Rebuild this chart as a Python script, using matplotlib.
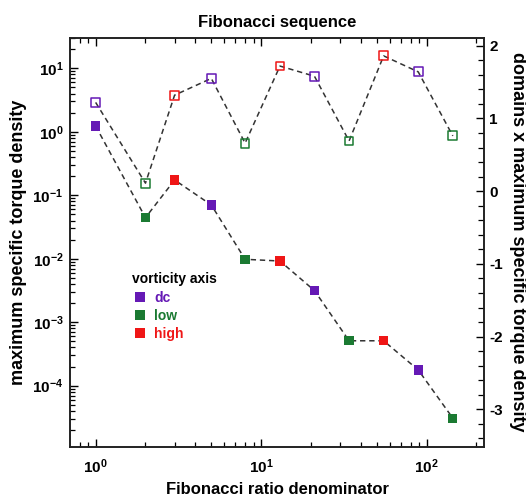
import numpy as np
import matplotlib.pyplot as plt
from matplotlib.lines import Line2D
from matplotlib.ticker import LogLocator, MultipleLocator, NullFormatter

plt.rcParams['font.family'] = ['Liberation Sans', 'DejaVu Sans']
plt.rcParams['font.weight'] = 'bold'
plt.rcParams['axes.labelweight'] = 'bold'
plt.rcParams['axes.titleweight'] = 'bold'
plt.rcParams['axes.unicode_minus'] = False

# Fibonacci denominators and which vorticity axis each case uses
denominator = [1, 2, 3, 5, 8, 13, 21, 34, 55, 89, 144]
vorticity = ['dc', 'low', 'high', 'dc', 'low', 'high', 'dc', 'low', 'high', 'dc', 'low']

# filled squares, left axis
max_torque = [1.23, 0.0444, 0.174, 0.0703, 0.0098, 0.0092, 0.00315,
              5.1e-4, 5.1e-4, 1.77e-4, 3.08e-5]
# open squares, right axis (log10 of domains x max torque)
domains_torque = [1.22, 0.11, 1.32, 1.55, 0.66, 1.72, 1.58, 0.69, 1.86, 1.64, 0.76]

axis_names = ['dc', 'low', 'high']
axis_colors = {'dc': '#6519b5', 'low': '#1b7a32', 'high': '#ef1616'}
cols = [axis_colors[v] for v in vorticity]

fig = plt.figure(figsize=(5.26, 4.96), dpi=100)
ax = fig.add_axes([0.1337, 0.0994, 0.7863, 0.8246])
ax2 = ax.twinx()

dash_kw = dict(color='#333333', lw=1.1, dashes=(3.5, 2.5), zorder=1)

ax.plot(denominator, max_torque, **dash_kw)
ax.scatter(denominator, max_torque, marker='s', s=45, c=cols, linewidths=0, zorder=3)

ax2.plot(denominator, domains_torque, **dash_kw)
ax2.scatter(denominator, domains_torque, marker='s', s=40, facecolors='none',
            edgecolors=cols, linewidths=1.1, zorder=3)

ax.set_xscale('log')
ax.set_yscale('log')
ax.set_xlim(0.703, 222)
ax.set_ylim(10 ** -4.961, 10 ** 1.482)
ax2.set_ylim(-3.514, 2.11)

ax.xaxis.set_major_locator(LogLocator(base=10))
ax.xaxis.set_minor_locator(LogLocator(base=10, subs=np.arange(2, 10)))
ax.xaxis.set_minor_formatter(NullFormatter())
ax.yaxis.set_major_locator(LogLocator(base=10, numticks=20))
ax.yaxis.set_minor_locator(LogLocator(base=10, subs=np.arange(2, 10), numticks=20))
ax.yaxis.set_minor_formatter(NullFormatter())
ax2.yaxis.set_major_locator(MultipleLocator(1))
ax2.yaxis.set_minor_locator(MultipleLocator(0.2))

ax.tick_params(axis='x', which='both', direction='in', top=True, bottom=True,
               labelsize=11, pad=8)
ax.tick_params(axis='y', which='both', direction='in', left=True, right=False,
               labelsize=11, pad=5)
ax.tick_params(which='major', length=6, width=1)
ax.tick_params(which='minor', length=3.5, width=0.9)
ax2.tick_params(axis='y', which='both', direction='in', labelsize=11, pad=4)
ax2.tick_params(which='major', length=6, width=1)
ax2.tick_params(which='minor', length=4, width=0.9)

for a in (ax, ax2):
    for sp in a.spines.values():
        sp.set_linewidth(1.2)
        sp.set_color('#222222')

ax.set_title('Fibonacci sequence', fontsize=12, pad=8)
ax.set_xlabel('Fibonacci ratio denominator', fontsize=12)
ax.xaxis.label.set_va('baseline')
ax.xaxis.set_label_coords(0.5, -0.115)
ax.set_ylabel('maximum specific torque density', fontsize=13)
ax.yaxis.label.set_va('center')
ax.yaxis.set_label_coords(-0.1245, 0.5)
ax2.set_ylabel('domains x maximum specific torque density', fontsize=13,
               rotation=-90)
ax2.yaxis.label.set_va('center')
ax2.yaxis.set_label_coords(1.081, 0.5)

handles = [Line2D([], [], marker='s', ls='none', ms=6.5, mew=0,
                  color=axis_colors[n]) for n in axis_names]
leg = ax.legend(handles, axis_names, title='vorticity axis', loc='upper left',
                bbox_to_anchor=(0.149, 0.426), frameon=False, borderpad=0,
                borderaxespad=0, handlelength=1.2, handletextpad=0.4,
                labelspacing=0.3, fontsize=10, title_fontsize=10,
                alignment='left')
for txt, n in zip(leg.get_texts(), axis_names):
    txt.set_color(axis_colors[n])
leg.get_title().set_fontweight('bold')

fig.savefig('out.png', dpi=100)
